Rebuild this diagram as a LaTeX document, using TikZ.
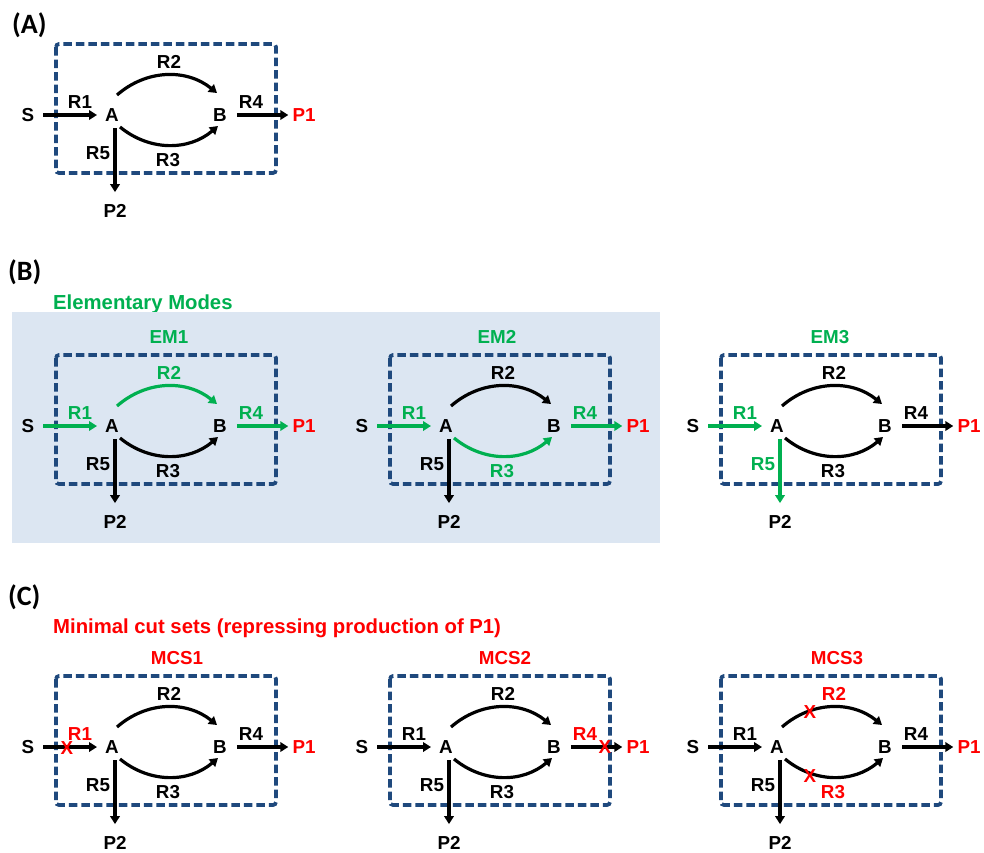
\documentclass[tikz,border=0pt]{standalone}
\usepackage{fontspec}
\setmainfont{Liberation Sans}
\newfontfamily\panelfont{Carlito}
\usetikzlibrary{arrows.meta}

\definecolor{boxblue}{RGB}{31,73,125}
\definecolor{emgreen}{RGB}{0,176,80}
\definecolor{cutred}{RGB}{255,0,0}
\definecolor{modebg}{RGB}{220,230,242}

\tikzset{
  lbl/.style={font=\bfseries\fontsize{18.8}{20}\selectfont, inner sep=0pt,
              text height=13.4pt, text depth=0pt},
  head/.style={font=\bfseries\fontsize{20.3}{22}\selectfont, inner sep=0pt, anchor=base west},
  panel/.style={font=\panelfont\bfseries\fontsize{28}{30}\selectfont, inner sep=0pt, anchor=base west},
  cellbox/.style={draw=boxblue, line width=3.7pt, dash pattern=on 8.5pt off 4pt, rounded corners=3pt},
  flux/.style={line width=3.6pt, -{Triangle[length=8pt,width=9.5pt]}},
  arc/.style={line width=3.2pt, -{Triangle[length=8pt,width=9.5pt]}},
  % arrow colours of the five reactions
  rone/.style={black}, rtwo/.style={black}, rthree/.style={black},
  rfour/.style={black}, rfive/.style={black},
  % label colours of the five reactions
  lone/.style={black}, ltwo/.style={black}, lthree/.style={black},
  lfour/.style={black}, lfive/.style={black},
}

% the small network S -> A -> B -> P1, A -> P2, drawn with node names prefixed by #1
\newcommand\pathway[1]{%
  \draw[cellbox] (56,-44) rectangle (276,-173);
  \node[lbl] (#1S) at (28,-115) {S};
  \node[lbl] (#1A) at (112,-115) {A};
  \node[lbl] (#1B) at (220,-115) {B};
  \node[lbl,text=cutred] (#1P1) at (304,-115) {P1};
  \node[lbl] (#1P2) at (115,-210.5) {P2};
  \draw[flux,rone] ([xshift=9pt]#1S.east) -- ([xshift=-8pt]#1A.west);
  \draw[arc,rtwo] ([shift={(5pt,20pt)}]#1A.center) to[bend left=40] ([shift={(-3pt,22pt)}]#1B.center);
  \draw[arc,rthree] ([shift={(8pt,-12pt)}]#1A.center) to[bend right=40] ([shift={(-2pt,-11pt)}]#1B.center);
  \draw[flux,rfour] ([xshift=10pt]#1B.east) -- ([xshift=-4pt]#1P1.west);
  \draw[flux,rfive] ([shift={(3pt,-13pt)}]#1A.center) -- ([yshift=11.5pt]#1P2.north);
  \node[lbl,lone] (#1Rone) at (80,-102) {R1};
  \node[lbl,ltwo] (#1Rtwo) at (169,-62) {R2};
  \node[lbl,lthree] (#1Rthree) at (168,-160) {R3};
  \node[lbl,lfour] (#1Rfour) at (251,-102) {R4};
  \node[lbl,lfive] (#1Rfive) at (98,-153) {R5};
}

\begin{document}
\begin{tikzpicture}[x=1pt,y=1pt]
\useasboundingbox (0,0) rectangle (984,-852);

% ---------- (A) ----------
\node[panel] (labA) at (12,-33) {(A)};
\pathway{a}

% ---------- (B) ----------
\node[panel] (labB) at (8,-280) {(B)};
\node[head,text=emgreen] (emtitle) at (53,-309) {Elementary Modes};
\fill[modebg] (12,-312) rectangle (660,-543);

\node[lbl,text=emgreen] (emonehead) at (169,-337) {EM1};
\begin{scope}[shift={(0,-311)},
  rone/.style={emgreen}, rtwo/.style={emgreen}, rfour/.style={emgreen},
  lone/.style={emgreen}, ltwo/.style={emgreen}, lfour/.style={emgreen}]
  \pathway{emone}
\end{scope}

\node[lbl,text=emgreen] (emtwohead) at (497,-337) {EM2};
\begin{scope}[shift={(334,-311)},
  rone/.style={emgreen}, rthree/.style={emgreen}, rfour/.style={emgreen},
  lone/.style={emgreen}, lthree/.style={emgreen}, lfour/.style={emgreen}]
  \pathway{emtwo}
\end{scope}

\node[lbl,text=emgreen] (emthreehead) at (830,-337) {EM3};
\begin{scope}[shift={(665,-311)},
  rone/.style={emgreen}, rfive/.style={emgreen},
  lone/.style={emgreen}, lfive/.style={emgreen}]
  \pathway{emthree}
\end{scope}

% ---------- (C) ----------
\node[panel] (labC) at (8,-605) {(C)};
\node[head,text=cutred] (mcstitle) at (53,-633) {Minimal cut sets (repressing production of P1)};

\node[lbl,text=cutred] (mcsonehead) at (177,-658) {MCS1};
\begin{scope}[shift={(0,-632)}, lone/.style={cutred}]
  \pathway{mcsone}
  \node[lbl,text=cutred] (cutone) at (67,-116) {X};
\end{scope}

\node[lbl,text=cutred] (mcstwohead) at (505,-658) {MCS2};
\begin{scope}[shift={(334,-632)}, lfour/.style={cutred}]
  \pathway{mcstwo}
  \node[lbl,text=cutred] (cuttwo) at (271,-115) {X};
\end{scope}

\node[lbl,text=cutred] (mcsthreehead) at (837,-658) {MCS3};
\begin{scope}[shift={(665,-632)}, ltwo/.style={cutred}, lthree/.style={cutred}]
  \pathway{mcsthree}
  \node[lbl,text=cutred] (cutthreea) at (145,-80) {X};
  \node[lbl,text=cutred] (cutthreeb) at (145,-144) {X};
\end{scope}
\end{tikzpicture}
\end{document}
